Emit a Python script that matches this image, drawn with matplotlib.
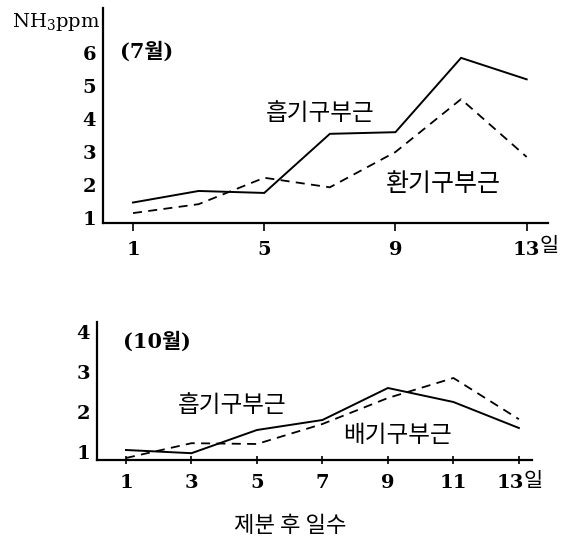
import matplotlib
matplotlib.use('Agg')
import matplotlib.pyplot as plt
from matplotlib.transforms import ScaledTranslation

plt.rcParams['font.family'] = ['DejaVu Serif', 'Noto Sans CJK KR']
plt.rcParams['mathtext.fontset'] = 'dejavuserif'

# ---------------- data ----------------
days = [1, 3, 5, 7, 9, 11, 13]
jul_intake = [1.47, 1.82, 1.76, 3.55, 3.6, 5.85, 5.2]      # 흡기구부근 (7월)
jul_vent = [1.15, 1.42, 2.22, 1.93, 3.0, 4.6, 2.85]        # 환기구부근 (7월)
oct_intake = [1.05, 0.97, 1.55, 1.8, 2.6, 2.25, 1.6]       # 흡기구부근 (10월)
oct_exhaust = [0.85, 1.22, 1.2, 1.7, 2.35, 2.85, 1.82]     # 배기구부근 (10월)

jul_xticks = [1, 5, 9, 13]
jul_xticklabels = ['1', '5', '9', '13']
jul_yticks = [1, 2, 3, 4, 5, 6]
oct_xticks = [1, 3, 5, 7, 9, 11, 13]
oct_xticklabels = ['1', '3', '5', '7', '9', '11', '13']
oct_yticks = [1, 2, 3, 4]
day_unit = '일'

W, H = 563, 539
fig = plt.figure(figsize=(W / 100, H / 100), dpi=100)
fig.patch.set_facecolor('white')

def px(x, y):
    return x / W, 1 - y / H

KFONT = ['Noto Sans CJK KR', 'DejaVu Sans']
NUMFONT = ['DejaVu Serif', 'Noto Sans CJK KR']
TICKSIZE = 14

def style_axes(ax, xticks, xlabels, yticks, tickdir):
    for s in ['top', 'right']:
        ax.spines[s].set_visible(False)
    for s in ['left', 'bottom']:
        ax.spines[s].set_linewidth(1.6)
    ax.set_xticks(xticks)
    ax.set_xticklabels(xlabels, fontfamily=NUMFONT, fontweight='bold', fontsize=TICKSIZE)
    ax.set_yticks(yticks)
    ax.set_yticklabels([str(v) for v in yticks], fontfamily=NUMFONT,
                       fontweight='bold', fontsize=TICKSIZE)
    ax.tick_params(axis='x', direction=tickdir, length=6, width=1.2, pad=7)
    ax.tick_params(axis='y', length=0, pad=5)
    ax.set_facecolor('none')

# ---------------- top (July) ----------------
l, r, b, t = 103, 548, 223, 8
ax1 = fig.add_axes([l / W, 1 - b / H, (r - l) / W, (b - t) / H])
ax1.plot(days, jul_intake, color='black', lw=1.4, solid_joinstyle='miter')
ax1.plot(days, jul_vent, color='black', lw=1.3, linestyle=(0, (5, 3.5)))
ax1.set_xlim(0.085, 13.65)
ax1.set_ylim(0.85, 7.36)
style_axes(ax1, jul_xticks, jul_xticklabels, jul_yticks, 'out')

fig.text(*px(100, 22), r'NH$_3$ppm', ha='right', va='center', fontsize=14,
         fontfamily=NUMFONT)
fig.text(*px(147, 52), '(7월)', ha='center', va='center', fontsize=15,
         fontfamily=NUMFONT, fontweight='bold')
fig.text(*px(320, 113), '흡기구부근', ha='center', va='center', fontsize=17,
         fontfamily=KFONT)
fig.text(*px(443, 184), '환기구부근', ha='center', va='center', fontsize=18,
         fontfamily=KFONT)
fig.text(*px(549, 246), day_unit, ha='center', va='center', fontsize=15,
         fontfamily=KFONT)

# ---------------- bottom (October) ----------------
l, r, b, t = 97, 532, 460, 322
ax2 = fig.add_axes([l / W, 1 - b / H, (r - l) / W, (b - t) / H])
ax2.plot(days, oct_intake, color='black', lw=1.4)
ax2.plot(days, oct_exhaust, color='black', lw=1.3, linestyle=(0, (5, 3.5)))
ax2.set_xlim(0.115, 13.40)
ax2.set_ylim(0.8, 4.25)
style_axes(ax2, oct_xticks, oct_xticklabels, oct_yticks, 'inout')
# shift "13" slightly left so that "13일" is centred on the tick
lab = ax2.get_xticklabels()[-1]
lab.set_transform(lab.get_transform() + ScaledTranslation(-0.09, 0, fig.dpi_scale_trans))

fig.text(*px(157, 342), '(10월)', ha='center', va='center', fontsize=15,
         fontfamily=NUMFONT, fontweight='bold')
fig.text(*px(232, 406), '흡기구부근', ha='center', va='center', fontsize=17,
         fontfamily=KFONT)
fig.text(*px(397, 436), '배기구부근', ha='center', va='center', fontsize=17,
         fontfamily=KFONT)
fig.text(*px(533, 481), day_unit, ha='center', va='center', fontsize=15,
         fontfamily=KFONT)
fig.text(*px(290, 525), '제분 후 일수', ha='center', va='center', fontsize=16,
         fontfamily=KFONT)

fig.savefig('out.png', dpi=100, facecolor='white')
